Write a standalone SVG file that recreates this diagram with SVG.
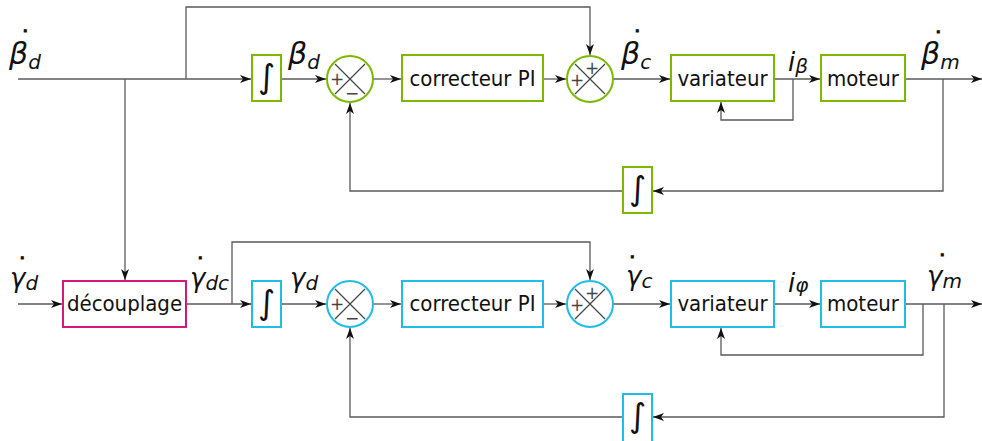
<svg xmlns="http://www.w3.org/2000/svg" width="982" height="441" viewBox="0 0 982 441">
<style>
.ln{fill:none;stroke:#5a5a5a;stroke-width:1.3}
.g{fill:#fff;stroke:#7cb800;stroke-width:2}
.c{fill:#fff;stroke:#20bce6;stroke-width:2}
.m{fill:#fff;stroke:#d6177c;stroke-width:2}
.x{stroke:#444;stroke-width:1.2}
.t{font-family:"DejaVu Sans Condensed","DejaVu Sans",sans-serif;font-size:22px;fill:#111;text-anchor:middle}
.int{font-family:"DejaVu Sans","Liberation Sans",sans-serif;font-size:33px;fill:#111;text-anchor:middle}
.lb{font-family:"DejaVu Sans","Liberation Sans",sans-serif;font-style:italic;font-size:26px;fill:#111}
.bt{font-size:30px}
.sb{font-size:20px}
.dot{font-style:normal;font-size:12px;font-weight:bold;stroke:#111;stroke-width:1}
.sg{font-family:"DejaVu Sans",sans-serif;font-size:17px;fill:#444;text-anchor:middle}
</style>
<defs>
<marker id="a" markerUnits="userSpaceOnUse" markerWidth="12" markerHeight="8" refX="11" refY="4" orient="auto">
<path d="M0,0 L11,4 L0,8 L3,4 Z" fill="#111"/>
</marker>
</defs>

<g id="connectors">
<path class="ln" d="M18,79 H251" marker-end="url(#a)"/>
<path class="ln" d="M125,79 V280" marker-end="url(#a)"/>
<path class="ln" d="M186,79 V7 H590 V55" marker-end="url(#a)"/>
<path class="ln" d="M281,79 H326" marker-end="url(#a)"/>
<path class="ln" d="M373,79 H401" marker-end="url(#a)"/>
<path class="ln" d="M543,79 H566" marker-end="url(#a)"/>
<path class="ln" d="M613,79 H670" marker-end="url(#a)"/>
<path class="ln" d="M774,79 H820" marker-end="url(#a)"/>
<path class="ln" d="M793,79 V120 H721 V102" marker-end="url(#a)"/>
<path class="ln" d="M905,79 H982" marker-end="url(#a)"/>
<path class="ln" d="M943,79 V191 H653" marker-end="url(#a)"/>
<path class="ln" d="M623,191 H350 V103" marker-end="url(#a)"/>

<path class="ln" d="M18,304 H62" marker-end="url(#a)"/>
<path class="ln" d="M186,304 H251" marker-end="url(#a)"/>
<path class="ln" d="M232,304 V242 H590 V280" marker-end="url(#a)"/>
<path class="ln" d="M281,304 H326" marker-end="url(#a)"/>
<path class="ln" d="M373,304 H401" marker-end="url(#a)"/>
<path class="ln" d="M543,304 H566" marker-end="url(#a)"/>
<path class="ln" d="M613,304 H670" marker-end="url(#a)"/>
<path class="ln" d="M774,304 H820" marker-end="url(#a)"/>
<path class="ln" d="M905,304 H982" marker-end="url(#a)"/>
<path class="ln" d="M923,304 V355 H721 V328" marker-end="url(#a)"/>
<path class="ln" d="M944,304 V417 H653" marker-end="url(#a)"/>
<path class="ln" d="M623,417 H350 V328" marker-end="url(#a)"/>
</g>

<!-- top chain -->
<g id="int1"><rect class="g" x="252" y="55" width="29" height="46"/><text class="int" x="266.5" y="88">∫</text></g>
<g id="sum1"><circle class="g" cx="350" cy="79" r="23"/><path class="x" d="M335,64 L365,94 M365,64 L335,94"/><text class="sg" x="337" y="85">+</text><text class="sg" x="352" y="99">−</text></g>
<g id="pi1"><rect class="g" x="402" y="55" width="141" height="46"/><text class="t" x="472.5" y="86">correcteur PI</text></g>
<g id="sum2"><circle class="g" cx="590" cy="79" r="23"/><path class="x" d="M575,64 L605,94 M605,64 L575,94"/><text class="sg" x="577" y="86">+</text><text class="sg" x="592" y="74">+</text></g>
<g id="var1"><rect class="g" x="671" y="55" width="103" height="46"/><text class="t" x="722.5" y="86">variateur</text></g>
<g id="mot1"><rect class="g" x="821" y="55" width="84" height="46"/><text class="t" x="863" y="86">moteur</text></g>
<g id="intfb1"><rect class="g" x="623" y="167" width="29" height="46"/><text class="int" x="637.5" y="200">∫</text></g>

<!-- bottom chain -->
<g id="decouplage"><rect class="m" x="63" y="281" width="123" height="46"/><text class="t" x="124.5" y="311">découplage</text></g>
<g id="int2"><rect class="c" x="252" y="281" width="29" height="46"/><text class="int" x="266.5" y="314">∫</text></g>
<g id="sum3"><circle class="c" cx="350" cy="304" r="23"/><path class="x" d="M335,289 L365,319 M365,289 L335,319"/><text class="sg" x="337" y="310">+</text><text class="sg" x="352" y="324">−</text></g>
<g id="pi2"><rect class="c" x="402" y="281" width="141" height="46"/><text class="t" x="472.5" y="311">correcteur PI</text></g>
<g id="sum4"><circle class="c" cx="590" cy="304" r="23"/><path class="x" d="M575,289 L605,319 M605,289 L575,319"/><text class="sg" x="577" y="311">+</text><text class="sg" x="592" y="299">+</text></g>
<g id="var2"><rect class="c" x="671" y="281" width="103" height="46"/><text class="t" x="722.5" y="311">variateur</text></g>
<g id="mot2"><rect class="c" x="821" y="281" width="84" height="46"/><text class="t" x="863" y="311">moteur</text></g>
<g id="intfb2"><rect class="c" x="623" y="394" width="29" height="52"/><text class="int" x="637.5" y="427">∫</text></g>

<!-- labels -->
<g id="labels">
<text class="lb" x="9" y="64"><tspan class="bt">β</tspan><tspan class="sb" dy="5">d</tspan><tspan class="dot" x="23" y="32">.</tspan></text>
<text class="lb" x="288" y="64"><tspan class="bt">β</tspan><tspan class="sb" dy="5">d</tspan></text>
<text class="lb" x="621" y="64"><tspan class="bt">β</tspan><tspan class="sb" dy="5">c</tspan><tspan class="dot" x="635" y="32">.</tspan></text>
<text class="lb" x="788" y="71">i<tspan class="sb" dy="2">β</tspan></text>
<text class="lb" x="921" y="64"><tspan class="bt">β</tspan><tspan class="sb" dy="5">m</tspan><tspan class="dot" x="936" y="33">.</tspan></text>

<text class="lb" x="10" y="287">γ<tspan class="sb" dy="3">d</tspan><tspan class="dot" x="20" y="259">.</tspan></text>
<text class="lb" x="190" y="287">γ<tspan class="sb" dy="3">dc</tspan><tspan class="dot" x="198" y="259">.</tspan></text>
<text class="lb" x="290" y="287">γ<tspan class="sb" dy="3">d</tspan></text>
<text class="lb" x="626" y="285">γ<tspan class="sb" dy="3">c</tspan><tspan class="dot" x="630" y="258">.</tspan></text>
<text class="lb" x="788" y="292">i<tspan class="sb" dy="0">φ</tspan></text>
<text class="lb" x="927" y="285">γ<tspan class="sb" dy="3">m</tspan><tspan class="dot" x="940" y="256">.</tspan></text>
</g>
</svg>
